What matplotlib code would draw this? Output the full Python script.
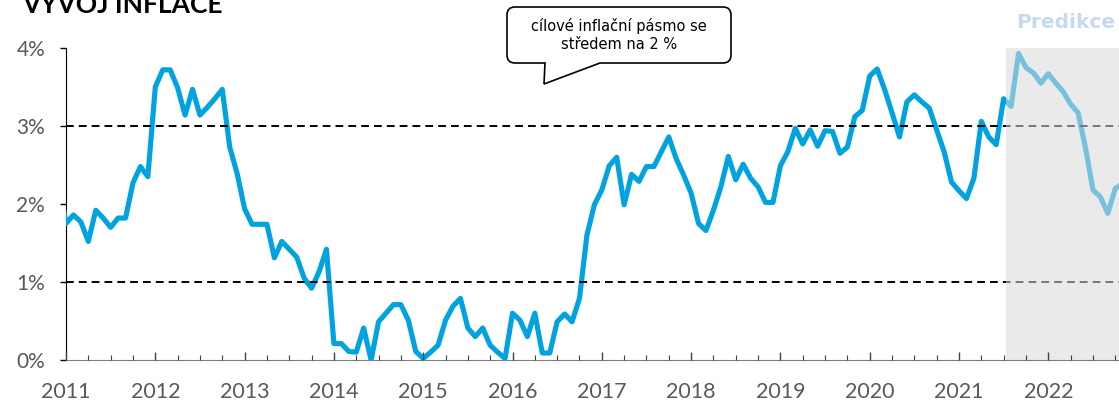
import numpy as np
import pandas as pd
import matplotlib
matplotlib.use("Agg")
import matplotlib.pyplot as plt
from matplotlib.path import Path
from matplotlib.patches import PathPatch

W, H = 1119, 401

# monthly inflation (y/y, %), first value is Dec 2010 (clipped at the axis)
first_month = "2010-12-01"
inflation = [
    2.30,
    1.75, 1.86, 1.77, 1.52, 1.92, 1.82, 1.70, 1.82, 1.82, 2.27, 2.48, 2.35,
    3.50, 3.72, 3.72, 3.49, 3.14, 3.47, 3.14, 3.24, 3.35, 3.47, 2.73, 2.39,
    1.94, 1.74, 1.74, 1.74, 1.31, 1.52, 1.42, 1.32, 1.05, 0.92, 1.13, 1.42,
    0.21, 0.21, 0.11, 0.10, 0.41, 0.00, 0.49, 0.60, 0.71, 0.71, 0.51, 0.11,
    0.02, 0.10, 0.19, 0.51, 0.69, 0.79, 0.41, 0.30, 0.41, 0.19, 0.10, 0.02,
    0.60, 0.51, 0.30, 0.60, 0.09, 0.09, 0.49, 0.59, 0.49, 0.79, 1.60, 1.99,
    2.18, 2.49, 2.60, 1.99, 2.38, 2.29, 2.48, 2.48, 2.67, 2.86, 2.58, 2.37,
    2.14, 1.75, 1.66, 1.92, 2.22, 2.61, 2.31, 2.51, 2.33, 2.22, 2.02, 2.02,
    2.49, 2.67, 2.97, 2.77, 2.95, 2.74, 2.94, 2.93, 2.65, 2.73, 3.12, 3.20,
    3.64, 3.73, 3.47, 3.17, 2.86, 3.31, 3.40, 3.31, 3.23, 2.95, 2.67, 2.28,
    2.17, 2.07, 2.33, 3.06, 2.86, 2.76, 3.35, 3.25, 3.93, 3.75, 3.68, 3.55,
    3.67, 3.55, 3.44, 3.28, 3.17, 2.72, 2.18, 2.09, 1.88, 2.20, 2.26,
]
target_band = [1, 3]
years = list(range(2011, 2023))
y_ticks = [0, 1, 2, 3, 4]
forecast_start = 2021 + 6.3 / 12
x_end = 2011 + (W - 66) / 89.3

dates = pd.date_range(first_month, periods=len(inflation), freq="MS")
x = dates.year + (dates.month - 1) / 12

plt.rcParams["font.family"] = ["Lato", "DejaVu Sans"]

fig = plt.figure(figsize=(W / 100, H / 100), dpi=100)
ax = fig.add_axes([66 / W, 41 / H, 1 - 66 / W, 360 / H])

ax.plot(x, inflation, color="#00A3E0", lw=3.7, zorder=3, solid_capstyle="round")
for lvl in target_band:
    ax.axhline(lvl, color="black", lw=1.4, ls=(0, (4, 2.6)), zorder=4)

# forecast period: light grey veil over everything
ax.fill_between([forecast_start, x_end + 1], 0, 4, color="#DADADA", alpha=0.55,
                lw=0, zorder=5)

ax.set_xlim(2011, x_end)
ax.set_ylim(0, 360 / 78)

for s in ["top", "right"]:
    ax.spines[s].set_visible(False)
ax.spines["left"].set_bounds(0, 4)
ax.spines["left"].set_color("black")
ax.spines["bottom"].set_color("#808080")
ax.spines["bottom"].set_zorder(6)
ax.xaxis.set_zorder(6)

ax.set_yticks(y_ticks)
ax.set_yticklabels([f"{v}%" for v in y_ticks])
ax.set_xticks(years)
ax.set_xticklabels([str(y) for y in years])
ax.set_xticks(np.arange(2011, 2023, 0.25), minor=True)
ax.tick_params(axis="y", direction="out", length=4, width=1, color="black",
               pad=11, labelsize=15, labelcolor="#595959")
ax.tick_params(axis="x", which="major", direction="in", length=5.5, width=1,
               color="#404040", pad=15.5, labelsize=15.5, labelcolor="#595959")
ax.tick_params(axis="x", which="minor", direction="in", length=3.6, width=0.8,
               color="#404040")

fig.text(22 / W, 1 - 13 / H, "VÝVOJ INFLACE", fontsize=19, fontweight="bold",
         va="baseline", ha="left", color="black")
fig.text(1016 / W, 1 - 28 / H, "Predikce", fontsize=14.5, fontweight="bold",
         va="baseline", ha="left", color="#C6D9F1", family="DejaVu Sans")

# speech bubble
x0, x1, y0, y1, r = 507, 731, 7, 63, 8
pts = [
    ((x0 + r, y0), Path.MOVETO), ((x1 - r, y0), Path.LINETO),
    ((x1, y0), Path.CURVE3), ((x1, y0 + r), Path.CURVE3),
    ((x1, y1 - r), Path.LINETO),
    ((x1, y1), Path.CURVE3), ((x1 - r, y1), Path.CURVE3),
    ((600, y1), Path.LINETO), ((544, 84), Path.LINETO), ((545, y1), Path.LINETO),
    ((x0 + r, y1), Path.LINETO),
    ((x0, y1), Path.CURVE3), ((x0, y1 - r), Path.CURVE3),
    ((x0, y0 + r), Path.LINETO),
    ((x0, y0), Path.CURVE3), ((x0 + r, y0), Path.CURVE3),
    ((x0 + r, y0), Path.CLOSEPOLY),
]
verts = [(px / W, 1 - py / H) for (px, py), _ in pts]
codes = [c for _, c in pts]
bubble = PathPatch(Path(verts, codes), transform=fig.transFigure, facecolor="white",
                   edgecolor="black", lw=1.2, zorder=10)
fig.patches.append(bubble)
fig.text(619 / W, 1 - 35 / H, "cílové inflační pásmo se\nstředem na 2 %",
         ha="center", va="center", fontsize=10.5, family="DejaVu Sans",
         color="black", linespacing=1.25, zorder=11)

fig.savefig("out.png", dpi=100)
